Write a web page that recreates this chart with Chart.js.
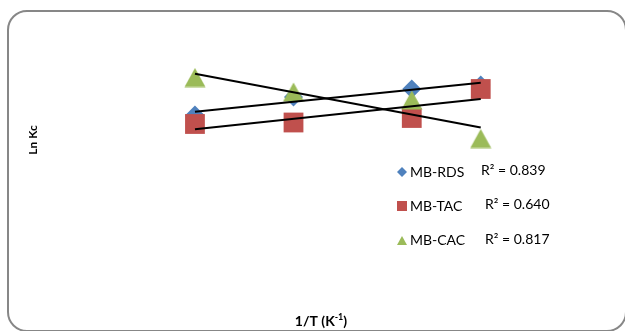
<!DOCTYPE html>
<html>
<head>
<meta charset="utf-8">
<script src="https://cdn.jsdelivr.net/npm/chart.js@4.4.0/dist/chart.umd.min.js"></script>
<style>
  html, body { margin: 0; padding: 0; background: #fff; overflow: hidden; }
  #wrap { position: relative; width: 625px; height: 331px; }
  #frame { position: absolute; left: 7px; top: 10px; width: 620px; height: 322px; box-sizing: border-box; border: 2px solid #878787; border-radius: 20px; }
  #chart { position: absolute; left: 0; top: 0; }
</style>
</head>
<body>
<div id="wrap">
  <div id="frame"></div>
  <canvas id="chart" width="625" height="331"></canvas>
</div>
<script>
// --------------------
// Data
// --------------------
const invT = [0.00300, 0.00310, 0.00322, 0.00329];
const lnKcRDS = [1.70, 2.06, 2.22, 2.30];
const lnKcTAC = [1.52, 1.55, 1.64, 2.22];
const lnKcCAC = [2.45, 2.16, 2.00, 1.23];
const seriesNames = ["MB-RDS", "MB-TAC", "MB-CAC"];
const r2Labels = ["R\u00B2 = 0.839", "R\u00B2 = 0.640", "R\u00B2 = 0.817"];
const colors = ["#4F81BD", "#C0504D", "#9BBB59"];

// --------------------
// Helpers
// --------------------
function toPoints(xs, ys) {
  return xs.map((x, i) => ({ x: x, y: ys[i] }));
}

// least squares line, returned as its two end points
function trendLine(xs, ys) {
  const n = xs.length;
  const mx = xs.reduce((a, b) => a + b, 0) / n;
  const my = ys.reduce((a, b) => a + b, 0) / n;
  let sxy = 0, sxx = 0;
  xs.forEach((x, i) => { sxy += (x - mx) * (ys[i] - my); sxx += (x - mx) * (x - mx); });
  const b = sxy / sxx;
  const a = my - b * mx;
  return [{ x: xs[0], y: a + b * xs[0] }, { x: xs[n - 1], y: a + b * xs[n - 1] }];
}

// triangle marker centred on its box, like Excel's
const triMarker = document.createElement("canvas");
triMarker.width = 22;
triMarker.height = 20;
(function () {
  const c = triMarker.getContext("2d");
  c.fillStyle = colors[2];
  c.beginPath();
  c.moveTo(11, 0.5);
  c.lineTo(21.5, 19.5);
  c.lineTo(0.5, 19.5);
  c.closePath();
  c.fill();
})();

function trendSet(ys) {
  return {
    type: "line",
    data: trendLine(invT, ys),
    borderColor: "#000",
    borderWidth: 2,
    pointRadius: 0,
    fill: false,
    order: 0
  };
}

// --------------------
// Titles + legend plugin
// --------------------
const decorPlugin = {
  id: "decor",
  afterDraw(chart) {
    const ctx = chart.ctx;
    ctx.save();
    ctx.fillStyle = "#000";

    // y title
    ctx.save();
    ctx.translate(33, 140);
    ctx.rotate(-Math.PI / 2);
    ctx.font = "700 12px Lato";
    ctx.textAlign = "center";
    ctx.textBaseline = "middle";
    ctx.fillText("Ln Kc", 0, 0);
    ctx.restore();

    // x title with superscript
    ctx.textBaseline = "alphabetic";
    ctx.textAlign = "left";
    const main = "1/T (K", sup = "-1", close = ")";
    ctx.font = "700 14px Lato";
    const w1 = ctx.measureText(main).width, w3 = ctx.measureText(close).width;
    ctx.font = "700 9px Lato";
    const w2 = ctx.measureText(sup).width;
    let x = 321 - (w1 + w2 + w3) / 2;
    const base = 326;
    ctx.font = "700 14px Lato";
    ctx.fillText(main, x, base);
    x += w1;
    ctx.font = "700 9px Lato";
    ctx.fillText(sup, x, base - 6);
    x += w2;
    ctx.font = "700 14px Lato";
    ctx.fillText(close, x, base);

    // legend
    const rowY = [172, 206, 240.5];
    const r2X = [481, 485, 485];
    const r2Y = [170, 204, 239];
    ctx.textBaseline = "middle";
    ctx.font = "14px Lato";
    seriesNames.forEach((name, i) => {
      const cx = 402, cy = rowY[i];
      ctx.fillStyle = colors[i];
      ctx.beginPath();
      if (i === 0) {
        ctx.moveTo(cx, cy - 5); ctx.lineTo(cx + 5, cy); ctx.lineTo(cx, cy + 5); ctx.lineTo(cx - 5, cy);
      } else if (i === 1) {
        ctx.rect(cx - 5, cy - 5, 10, 10);
      } else {
        ctx.moveTo(cx, cy - 4.5); ctx.lineTo(cx + 5, cy + 4.5); ctx.lineTo(cx - 5, cy + 4.5);
      }
      ctx.closePath();
      ctx.fill();
      ctx.fillStyle = "#000";
      ctx.fillText(name, 410, cy);
      ctx.fillText(r2Labels[i], r2X[i], r2Y[i]);
    });
    ctx.restore();
  }
};

// --------------------
// Chart
// --------------------
new Chart(document.getElementById("chart"), {
  type: "scatter",
  data: {
    datasets: [
      trendSet(lnKcRDS),
      trendSet(lnKcTAC),
      trendSet(lnKcCAC),
      {
        label: seriesNames[2],
        data: toPoints(invT, lnKcCAC),
        pointStyle: triMarker,
        backgroundColor: colors[2],
        borderColor: colors[2],
        order: 1
      },
      {
        label: seriesNames[1],
        data: toPoints(invT, lnKcTAC),
        pointStyle: "rect",
        pointRadius: 14,
        backgroundColor: colors[1],
        borderColor: colors[1],
        borderWidth: 0,
        order: 2
      },
      {
        label: seriesNames[0],
        data: toPoints(invT, lnKcRDS),
        pointStyle: "rectRot",
        pointRadius: 9.5,
        backgroundColor: colors[0],
        borderColor: colors[0],
        borderWidth: 0,
        order: 3
      }
    ]
  },
  options: {
    responsive: false,
    animation: false,
    events: [],
    layout: { padding: { left: 57, right: 26, top: 20, bottom: 21 } },
    plugins: { legend: { display: false }, tooltip: { enabled: false } },
    scales: {
      x: { type: "linear", display: false, min: 0.00286, max: 0.00341 },
      y: { type: "linear", display: false, min: -2.2, max: 3.6 }
    }
  },
  plugins: [decorPlugin]
});
</script>
</body>
</html>
